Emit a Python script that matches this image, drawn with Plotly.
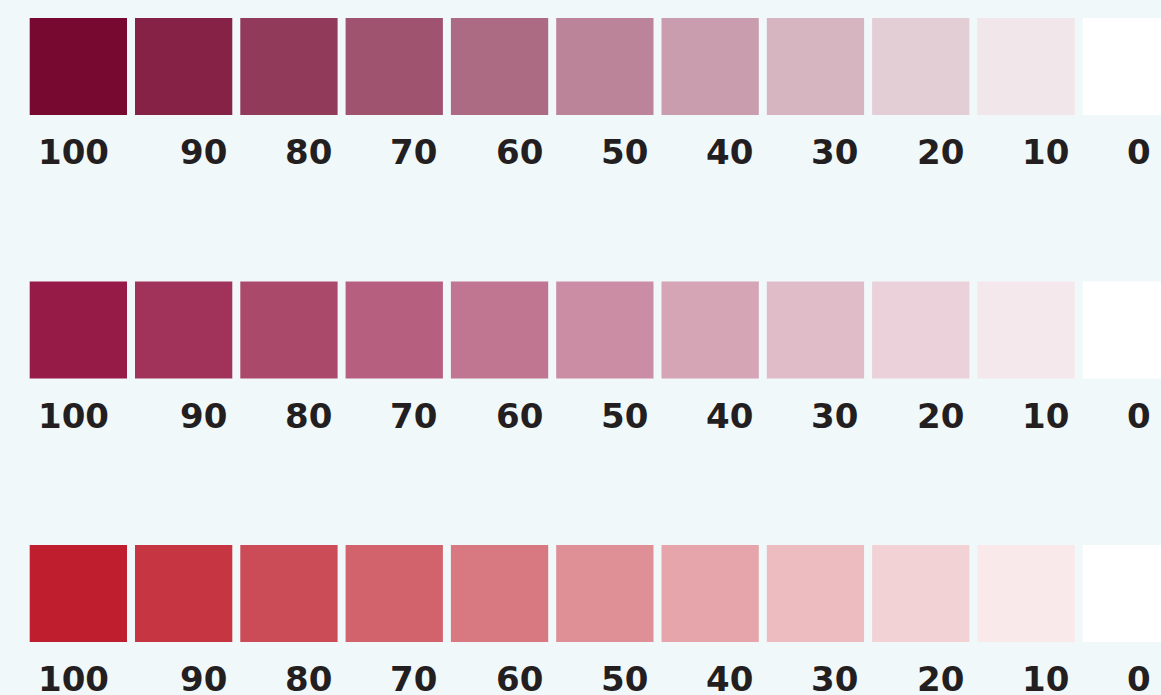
import plotly.graph_objects as go

# ---- data ----
levels = [100, 90, 80, 70, 60, 50, 40, 30, 20, 10, 0]
tick_labels = [str(v) for v in levels]
row_names = ["maroon", "raspberry", "red"]
colors_maroon = ["#770931", "#852246", "#923A5A", "#A0536F", "#AD6B83", "#BB8498",
                 "#C99DAD", "#D6B5C1", "#E4CED6", "#F1E6EA", "#FFFFFF"]
colors_raspberry = ["#961B46", "#A13259", "#AB496B", "#B65F7E", "#C07690", "#CB8DA3",
                    "#D5A4B5", "#E0BBC8", "#EAD1DA", "#F5E8EC", "#FFFFFF"]
colors_red = ["#BE1E2D", "#C53542", "#CB4B57", "#D2626C", "#D87881", "#DF8F96",
              "#E5A5AB", "#ECBCC0", "#F2D2D5", "#F9E9EA", "#FFFFFF"]
row_colors = [colors_maroon, colors_raspberry, colors_red]

# ---- layout constants (pixels) ----
W, H = 1161, 695
PITCH_X = 105.3          # px per swatch step
FIRST_CENTER_X = 78.35   # px, centre of first swatch
SWATCH_W = 97.3
PITCH_Y = 263.5          # px per row step
FIRST_TOP_Y = 18.0
SWATCH_H = 97.0
LABEL_DY = 134.0         # label centre below row top (px)

x0 = -FIRST_CENTER_X / PITCH_X
x1 = x0 + W / PITCH_X
y_top = -FIRST_TOP_Y / PITCH_Y
y_bot = y_top + H / PITCH_Y

xs = list(range(len(levels)))
fig = go.Figure()
for r, cols in enumerate(row_colors):
    fig.add_trace(go.Bar(
        x=xs,
        y=[SWATCH_H / PITCH_Y] * len(xs),
        base=[r] * len(xs),
        width=SWATCH_W / PITCH_X,
        marker=dict(color=cols, line=dict(width=0)),
        name=row_names[r],
        hoverinfo="skip",
        showlegend=False,
    ))
    for i, lab in enumerate(tick_labels):
        fig.add_annotation(
            x=i, y=r + LABEL_DY / PITCH_Y,
            xref="x", yref="y",
            text=lab, showarrow=False,
            xanchor="left", yanchor="middle",
            xshift=-42 if i == 0 else -6,
            font=dict(family="DejaVu Sans", size=34, color="#231F20", weight="bold"),
        )

fig.update_layout(
    width=W, height=H,
    margin=dict(l=0, r=0, t=0, b=0),
    paper_bgcolor="#F1F8FA",
    plot_bgcolor="#F1F8FA",
    barmode="overlay",
    xaxis=dict(range=[x0, x1], visible=False, fixedrange=True),
    yaxis=dict(range=[y_bot, y_top], visible=False, fixedrange=True),
)

fig.write_html(
    "out.html",
    config={"displayModeBar": False},
    post_script="document.body.style.margin='0';document.body.style.overflow='hidden';",
)
